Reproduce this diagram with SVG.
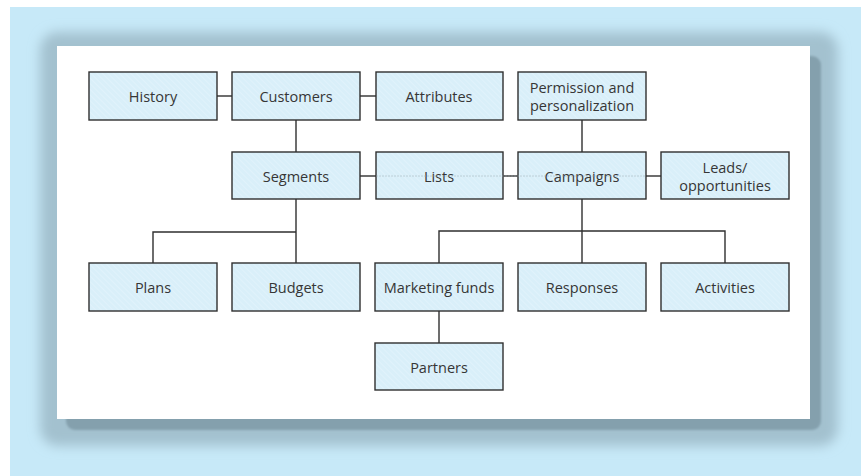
<svg xmlns="http://www.w3.org/2000/svg" width="861" height="476" viewBox="0 0 861 476">
<defs>
<pattern id="hatch" patternUnits="userSpaceOnUse" width="4" height="4" patternTransform="rotate(-45)">
<rect width="4" height="4" fill="#d9eff9"/>
<line x1="0" y1="0" x2="0" y2="4" stroke="#e3f4fc" stroke-width="1.5"/>
</pattern>
<filter id="blur" x="-10%" y="-10%" width="120%" height="120%">
<feGaussianBlur stdDeviation="6"/>
</filter>
<filter id="soft" x="-5%" y="-5%" width="110%" height="110%">
<feGaussianBlur stdDeviation="1.2"/>
</filter>
<style>
.box{fill:url(#hatch);stroke:#2f2f2f;stroke-width:1.4}
.lbl{font-family:"Open Sans","Noto Sans",sans-serif;font-size:14.5px;fill:#363636;text-anchor:middle;dominant-baseline:central}
.con{stroke:#2f2f2f;stroke-width:1.4;fill:none}
</style>
</defs>
<rect width="861" height="476" fill="#ffffff"/>
<rect x="10" y="7" width="851" height="469" fill="#c7e9f8"/>
<rect x="40" y="32" width="798" height="414" rx="18" fill="#a3c1cf" filter="url(#blur)"/>
<rect x="66" y="56" width="755" height="374" rx="9" fill="#84a0ad" filter="url(#soft)"/>
<rect x="57" y="46" width="753" height="373" fill="#ffffff"/>
<g id="connectors">
<line class="con" x1="217" y1="96" x2="232" y2="96"/>
<line class="con" x1="360" y1="96" x2="376" y2="96"/>
<line class="con" x1="296" y1="120" x2="296" y2="152"/>
<line class="con" x1="582" y1="120" x2="582" y2="152"/>
<line class="con" x1="360" y1="176" x2="376" y2="176"/>
<line class="con" x1="503" y1="176" x2="518" y2="176"/>
<line class="con" x1="646" y1="176" x2="661" y2="176"/>
<polyline class="con" points="296,199 296,263"/>
<polyline class="con" points="296,232 153,232 153,263"/>
<polyline class="con" points="582,199 582,263"/>
<polyline class="con" points="439,263 439,231 725,231 725,263"/>
<line class="con" x1="439" y1="311" x2="439" y2="343"/>
</g>
<g id="n-history"><rect class="box" x="89" y="72" width="128" height="48"/><text class="lbl" x="153" y="96">History</text></g>
<g id="n-customers"><rect class="box" x="232" y="72" width="128" height="48"/><text class="lbl" x="296" y="96">Customers</text></g>
<g id="n-attributes"><rect class="box" x="376" y="72" width="127" height="48"/><text class="lbl" x="439" y="96">Attributes</text></g>
<g id="n-permission"><rect class="box" x="518" y="72" width="128" height="48"/><text class="lbl" x="582" y="87">Permission and</text><text class="lbl" x="582" y="105">personalization</text></g>
<g id="n-segments"><rect class="box" x="232" y="152" width="128" height="47"/><text class="lbl" x="296" y="176">Segments</text></g>
<g id="n-lists"><rect class="box" x="376" y="152" width="127" height="47"/><text class="lbl" x="439" y="176">Lists</text></g>
<g id="n-campaigns"><rect class="box" x="518" y="152" width="128" height="47"/><text class="lbl" x="582" y="176">Campaigns</text></g>
<g id="n-leads"><rect class="box" x="661" y="152" width="128" height="47"/><text class="lbl" x="725" y="167">Leads/</text><text class="lbl" x="725" y="185">opportunities</text></g>
<line x1="376" y1="176" x2="646" y2="176" stroke="#9aa8b0" stroke-width="0.8" stroke-dasharray="2,1" opacity="0.6"/>
<g id="n-plans"><rect class="box" x="89" y="263" width="128" height="48"/><text class="lbl" x="153" y="287">Plans</text></g>
<g id="n-budgets"><rect class="box" x="232" y="263" width="128" height="48"/><text class="lbl" x="296" y="287">Budgets</text></g>
<g id="n-marketing"><rect class="box" x="375" y="263" width="128" height="48"/><text class="lbl" x="439" y="287">Marketing funds</text></g>
<g id="n-responses"><rect class="box" x="518" y="263" width="128" height="48"/><text class="lbl" x="582" y="287">Responses</text></g>
<g id="n-activities"><rect class="box" x="661" y="263" width="128" height="48"/><text class="lbl" x="725" y="287">Activities</text></g>
<g id="n-partners"><rect class="box" x="375" y="343" width="128" height="47"/><text class="lbl" x="439" y="367">Partners</text></g>
</svg>
